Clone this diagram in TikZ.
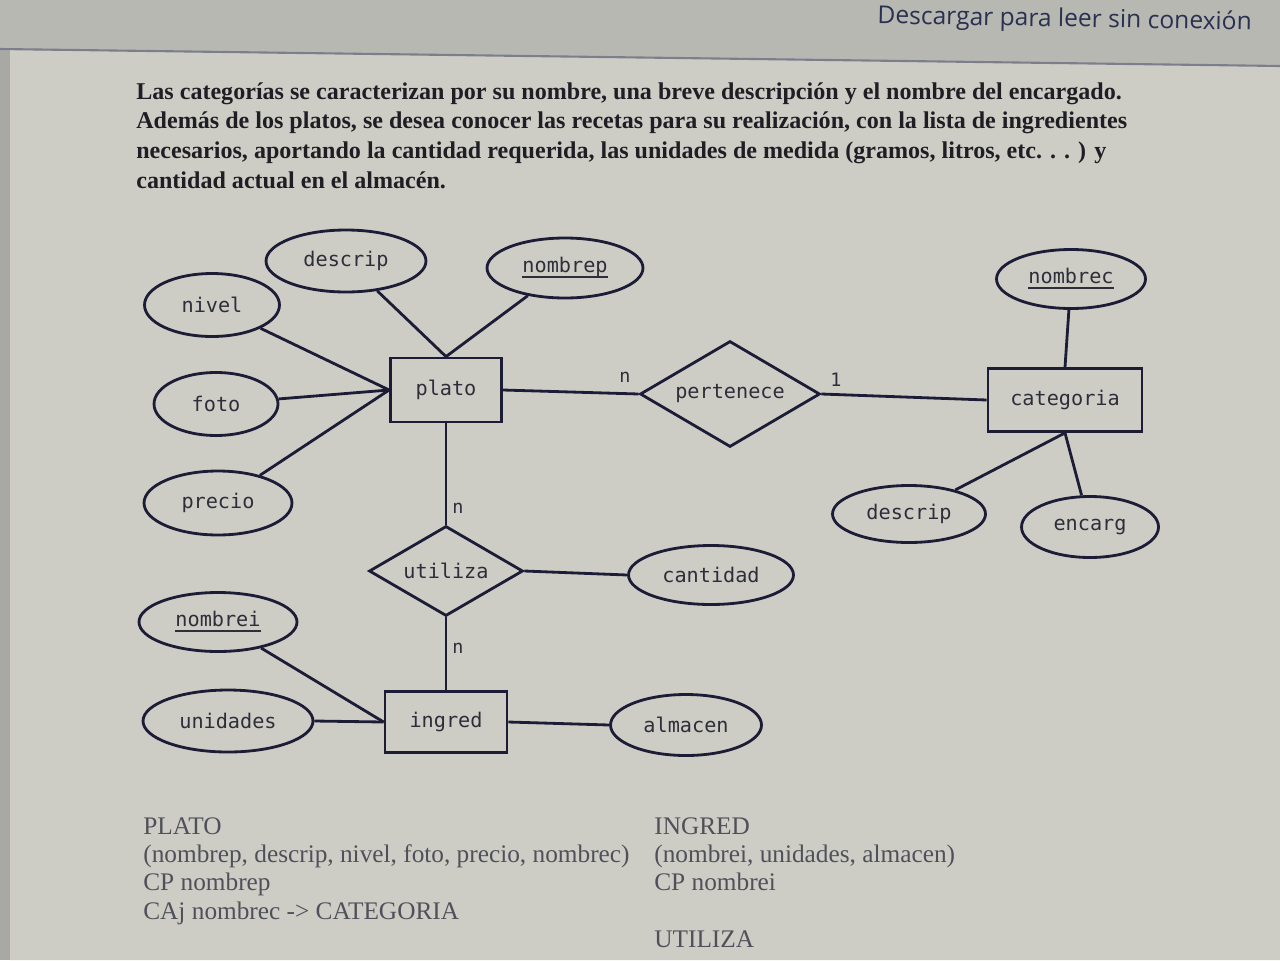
\documentclass[tikz,border=0pt]{standalone}
\usepackage{fontspec}
\setmainfont{Liberation Serif}
\newfontfamily\monof{DejaVu Sans Mono}
\newfontfamily\uisans{Open Sans}
\usetikzlibrary{shapes.geometric}
\definecolor{pagebg}{HTML}{CDCDC6}
\definecolor{topbar}{HTML}{B8B8B2}
\definecolor{leftstrip}{HTML}{A8A9A5}
\definecolor{ink}{HTML}{1C1C36}
\definecolor{txt}{HTML}{2E2E3A}
\definecolor{para}{HTML}{1E1E24}
\definecolor{lower}{HTML}{50505A}
\definecolor{navy}{HTML}{2A3050}
\newcommand\ulx[1]{\setbox0\hbox{#1}\rlap{\raisebox{-3.2pt}{\rule{\wd0}{1.4pt}}}\box0}
\tikzset{
  attr/.style={ellipse, draw=ink, line width=1.6pt, inner sep=0pt, font=\monof\fontsize{11.5}{13}\selectfont, text=txt},
  ent/.style={rectangle, draw=ink, line width=1.6pt, inner sep=0pt, font=\monof\fontsize{11.5}{13}\selectfont, text=txt},
  rel/.style={diamond, aspect=1.7, draw=ink, line width=1.6pt, inner sep=0pt, font=\monof\fontsize{11.5}{13}\selectfont, text=txt},
  conn/.style={draw=ink, line width=1.6pt},
  card/.style={font=\monof\fontsize{10.5}{12}\selectfont, text=txt, inner sep=0pt},
  lowline/.style={anchor=base west, inner sep=0pt, font=\fontsize{14.4}{16}\selectfont, text=lower}
}
\begin{document}
\begin{tikzpicture}[x=0.02cm,y=-0.02cm]
\useasboundingbox (0,0) rectangle (1280,960);
\fill[topbar] (0,0) rectangle (1280,960);
\fill[pagebg] (10,50) -- (1280,66) -- (1280,960) -- (10,960) -- cycle;
\fill[leftstrip] (0,50) rectangle (10,960);
\draw[color=navy!50!pagebg, line width=1.2pt] (0,49) -- (1280,66);

\node[anchor=base east, inner sep=0pt, font=\uisans\fontsize{14}{16}\selectfont, text=navy, rotate=-1] (dl) at (1252,30) {Descargar para leer sin conexión};

\node[anchor=north west, inner sep=0pt, align=left,
      font=\bfseries\fontsize{13.7}{17}\selectfont, text=para] (para) at (136,82)
 {Las categorías se caracterizan por su nombre, una breve descripción y el nombre del encargado.\\
  Además de los platos, se desea conocer las recetas para su realización, con la lista de ingredientes\\
  necesarios, aportando la cantidad requerida, las unidades de medida (gramos, litros, etc. . . ) y\\
  cantidad actual en el almacén.};

% entities
\node[ent, minimum width=2.22cm, minimum height=1.28cm] (plato) at (446,390) {plato};
\node[ent, minimum width=3.08cm, minimum height=1.26cm] (categoria) at (1065,400) {categoria};
\node[ent, minimum width=2.44cm, minimum height=1.22cm] (ingred) at (446,722) {ingred};

% relations
\node[rel, minimum width=3.6cm, minimum height=2.12cm] (pertenece) at (730,394) {pertenece};
\node[rel, minimum width=3.08cm, minimum height=1.8cm] (utiliza) at (446,571) {utiliza};

% attributes
\node[attr, minimum width=3.2cm, minimum height=1.24cm] (descA) at (346,261) {descrip};
\node[attr, minimum width=3.12cm, minimum height=1.2cm] (nombrep) at (565,268) {\ulx{nombrep}};
\node[attr, minimum width=2.7cm, minimum height=1.26cm] (nivel) at (212,305) {nivel};
\node[attr, minimum width=2.48cm, minimum height=1.26cm] (foto) at (216,404) {foto};
\node[attr, minimum width=2.96cm, minimum height=1.28cm] (precio) at (218,503) {precio};
\node[attr, minimum width=2.98cm, minimum height=1.18cm] (nombrec) at (1071,279) {\ulx{nombrec}};
\node[attr, minimum width=3.06cm, minimum height=1.14cm] (descB) at (909,514) {descrip};
\node[attr, minimum width=2.74cm, minimum height=1.22cm] (encarg) at (1090,527) {encarg};
\node[attr, minimum width=3.3cm, minimum height=1.18cm] (cantidad) at (711,575) {cantidad};
\node[attr, minimum width=3.16cm, minimum height=1.18cm] (nombrei) at (218,622) {\ulx{nombrei}};
\node[attr, minimum width=3.4cm, minimum height=1.24cm] (unidades) at (228,721) {unidades};
\node[attr, minimum width=3.02cm, minimum height=1.22cm] (almacen) at (686,725) {almacen};

% connectors
\draw[conn] (descA) -- (plato.north);
\draw[conn] (nombrep) -- (plato.north);
\draw[conn] (nivel) -- (plato.west);
\draw[conn] (foto) -- (plato.west);
\draw[conn] (precio) -- (plato.west);
\draw[conn] (plato.east) -- (pertenece.west);
\draw[conn] (pertenece.east) -- (categoria.west);
\draw[conn] (nombrec) -- (categoria.north);
\draw[conn] (descB) -- (categoria.south);
\draw[conn] (encarg) -- (categoria.south);
\draw[conn] (plato.south) -- (utiliza.north);
\draw[conn] (utiliza.east) -- (cantidad.west);
\draw[conn] (utiliza.south) -- (ingred.north);
\draw[conn] (nombrei) -- (ingred.west);
\draw[conn] (unidades.east) -- (ingred.west);
\draw[conn] (ingred.east) -- (almacen.west);

% cardinalities
\node[card] (c1) at (625,377) {n};
\node[card] (c2) at (836,380) {1};
\node[card] (c3) at (458,508) {n};
\node[card] (c4) at (458,648) {n};

% lower text
\node[lowline] (l1) at (143,834) {PLATO};
\node[lowline] (l2) at (143,862) {(nombrep, descrip, nivel, foto, precio, nombrec)};
\node[lowline] (l3) at (143,890) {CP nombrep};
\node[lowline] (l4) at (143,919) {CAj nombrec -> CATEGORIA};
\node[lowline] (r1) at (654,834) {INGRED};
\node[lowline] (r2) at (654,862) {(nombrei, unidades, almacen)};
\node[lowline] (r3) at (654,890) {CP nombrei};
\node[lowline] (r4) at (654,947) {UTILIZA};
\end{tikzpicture}
\end{document}
